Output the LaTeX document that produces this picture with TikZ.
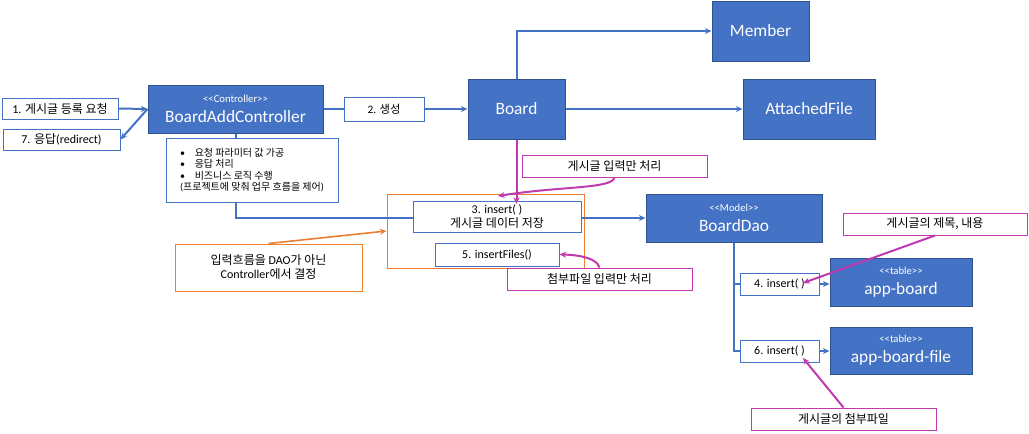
\documentclass[tikz,border=0pt]{standalone}
\usepackage{fontspec}
\setmainfont{Carlito}
\newfontfamily\kr{Noto Sans CJK KR}
\usetikzlibrary{arrows.meta}
\definecolor{boxblue}{HTML}{4472C4}
\definecolor{edgeblue}{HTML}{2F528F}
\definecolor{notepink}{HTML}{C03AAF}
\definecolor{noteorange}{HTML}{ED7D31}
\newdimen\pu \pu=0.75pt
\newcommand\stereo[1]{{\fontsize{8}{9}\selectfont<\kern0pt<#1>\kern0pt>}}
\tikzset{
  wh/.style 2 args={minimum width=#1\pu, minimum height=#2\pu},
  cls/.style={draw=edgeblue, fill=boxblue, text=white, line width=0.75pt, inner sep=0pt, align=center, font=\fontsize{13}{15}\selectfont},
  msg/.style={draw=boxblue, fill=white, line width=0.75pt, inner sep=0pt, align=center, font=\fontsize{9}{10.5}\selectfont},
  memo/.style={draw=notepink, fill=white, line width=0.75pt, inner sep=0pt, align=center, font=\fontsize{9}{10.5}\selectfont},
  link/.style={draw=boxblue, line width=1.5pt},
  arr/.style={link, -{Stealth[length=5pt,width=4.5pt]}},
  hint/.style={draw=notepink, line width=1.5pt, -{Stealth[length=5pt,width=4.5pt]}},
  cue/.style={draw=noteorange, line width=1.2pt, -{Stealth[length=5pt,width=4.5pt]}}
}

\begin{document}
\begin{tikzpicture}[x=0.75pt,y=-0.75pt]
                \useasboundingbox (0,0) rectangle (1029,433);
                \node[msg, wh={116}{21}] (req) at (60,108.5) {1. {\kr 게시글 등록 요청}};
                \node[msg, wh={117}{21}] (resp) at (61.5,139.5) {7. {\kr 응답}(redirect)};
                \node[cls, wh={175}{48}] (ctrl) at (235.5,109) {\stereo{Controller}\\BoardAddController};
                \node[msg, wh={172}{64}, align=left, font=\fontsize{7.5}{8.3}\selectfont] (role) at (252,170)
                    {\makebox[11pt][l]{\textbullet}{\kr 요청 파라미터 값 가공}\\
                     \makebox[11pt][l]{\textbullet}{\kr 응답 처리}\\
                     \makebox[11pt][l]{\textbullet}{\kr 비즈니스 로직 수행}\\
                     ({\kr 프로젝트에 맞춰 업무 흐름을 제어})};
                \draw[link] (ctrl.south) -- (ctrl.south |- role.north);
                \node[cls, wh={176}{48}] (dao) at (734,218) {\stereo{Model}\\BoardDao};
                \node[draw=noteorange, line width=0.75pt, wh={197}{74}] (flow) at (485.5,231) {};
                \draw[arr] (ctrl.south |- role.south) |- (dao.west);
                \node[msg, wh={168}{31}] (ins) at (497,216.5) {3. insert( )\\{\kr 게시글 데이터 저장}};
                \node[msg, wh={124}{23}] (insf) at (497,254.5) {5. insertFiles()};
                \node[msg, wh={80}{24}, font=\fontsize{8.5}{10}\selectfont] (gen) at (384,109) {2. {\kr 생성}};
                \node[cls, wh={97}{60}] (board) at (516.5,109) {Board};
                \node[cls, wh={97}{60}] (member) at (760.5,31) {Member};
                \node[cls, wh={132}{60}] (attach) at (809,109) {AttachedFile};
                \draw[arr] (req.east) -- (ctrl.west);
                \draw[arr] (ctrl.west) -- (resp.east);
                \draw[link] (ctrl.east) -- (gen.west);
                \draw[arr] (gen.east) -- (board.west);
                \draw[arr] (board.north) |- (member.west);
                \draw[arr] (board.east) -- (attach.west);
                \node[msg, wh={79}{22}] (callA) at (779.5,284) {4. insert( )};
                \node[msg, wh={79}{22}] (callB) at (779.5,351) {6. insert( )};
                \node[cls, wh={142}{48}] (tbl) at (901,282) {\stereo{table}\\app-board};
                \node[cls, wh={142}{47}] (tblf) at (901,350.5) {\stereo{table}\\app-board-file};
                \draw[link] (dao.south) |- (callA.west);
                \draw[link] (dao.south) |- (callB.west);
                \draw[arr] (callA.east) -- (callA.east -| tbl.west);
                \draw[arr] (callB.east) -- (callB.east -| tblf.west);
                \node[memo, wh={185}{22}] (noteA) at (614.5,166) {{\kr 게시글 입력만 처리}};
                \node[memo, wh={185}{22}] (noteB) at (599.5,279) {{\kr 첨부파일 입력만 처리}};
                \node[memo, wh={184}{22}] (noteC) at (935,224) {{\kr 게시글의 제목, 내용}};
                \node[memo, wh={185}{22}] (noteD) at (843.5,419) {{\kr 게시글의 첨부파일}};
                \node[msg, draw=noteorange, wh={187}{47}] (decide) at (268.5,267.5)
                    {{\kr 입력흐름을} DAO{\kr 가 아닌}\\Controller{\kr 에서 결정}};
                \coordinate (tipA) at (516.5,204);
                \coordinate (tipB) at (498,196);
                \coordinate (tipC) at (803,283);
                \coordinate (tipD) at (803,358);
                \draw[hint] (board.south) -- (tipA);
                \draw[hint] (noteA.south) .. controls (612,189) and (560,186) .. (tipB);
                \draw[hint] (noteB.north) .. controls (597,259) and (582,255) .. (insf.east);
                \draw[hint] (noteC.south) -- (tipC);
                \draw[hint] (noteD.north) -- (tipD);
                \draw[cue] (decide.north) -- (flow.west);
            \end{tikzpicture}
\end{document}
